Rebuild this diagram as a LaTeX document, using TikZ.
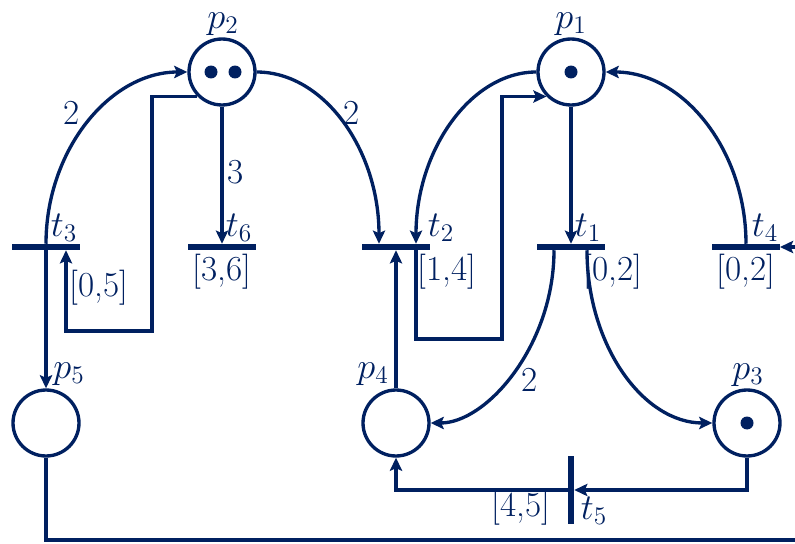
\documentclass[tikz,border=0pt]{standalone}
\usetikzlibrary{arrows.meta,calc}
\definecolor{navy}{HTML}{002060}
\begin{document}
\begin{tikzpicture}[x=0.02cm,y=-0.02cm,
  every node/.style={text=navy},
  place/.style={circle,draw=navy,line width=1.9pt,minimum size=1.32cm,inner sep=0pt},
  htrans/.style={rectangle,fill=navy,minimum width=1.36cm,minimum height=0.13cm,inner sep=0pt,outer sep=0pt},
  vtrans/.style={rectangle,fill=navy,minimum width=0.13cm,minimum height=1.38cm,inner sep=0pt,outer sep=0pt},
  arc/.style={draw=navy,line width=1.9pt,-{Stealth[length=7.5pt,width=7pt,inset=1.5pt]}},
  token/.style={circle,fill=navy,minimum size=0.26cm,inner sep=0pt},
  lbl/.style={font=\fontsize{20}{24}\selectfont,inner sep=0pt},
]
\useasboundingbox (0,0) rectangle (795,544);
% places
\node[place] (p1) at (571,72) {};
\node[place] (p2) at (222,72) {};
\node[place] (p3) at (747,423) {};
\node[place] (p4) at (396,423) {};
\node[place] (p5) at (46,423) {};
% tokens
\node[token] (k1) at (571,72) {};
\node[token] (k2a) at (211,72) {};
\node[token] (k2b) at (235,72) {};
\node[token] (k3) at (747,423) {};
% transitions
\node[htrans] (t1) at (571,247) {};
\node[htrans] (t2) at (396,247) {};
\node[htrans] (t3) at (46,247) {};
\node[htrans] (t4) at (746,247) {};
\node[vtrans] (t5) at (571,490) {};
\node[htrans] (t6) at (222,247) {};
% arcs
\draw[arc] (t3.north) .. controls (46,150) and (110,72) .. (p2.west);
\draw[arc] (p2.east) .. controls (324,72) and (379,150) .. ($(t2.north)+(-17,0)$);
\draw[arc] (p1.west) .. controls (471,72) and (416,150) .. ($(t2.north)+(20,0)$);
\draw[arc] (t4.north) .. controls (746,150) and (683,72) .. (p1.east);
\draw[arc] (p1.south) -- (t1.north);
\draw[arc] (p2.south) -- (t6.north);
\draw[arc] ($(t1.south)+(-17,0)$) .. controls (554,345) and (487,423) .. (p4.east);
\draw[arc] ($(t1.south)+(16,0)$) .. controls (587,345) and (643,423) .. (p3.west);
\draw[arc] (t3.south) -- (p5.north);
\draw[arc] (p4.north) -- (t2.south);
\draw[arc] (p2.south west) -| (152,331) -| ($(t3.south)+(20,0)$);
\draw[arc] ($(t2.south)+(20,0)$) |- (502,339) |- (p1.south west);
\draw[arc] (p3.south) |- (t5.east);
\draw[arc] (t5.west) -| (p4.south);
\draw[arc] (p5.south) |- (830,540) |- (t4.east);
% place labels
\node[lbl] (lp1) at (571,24) {$p_1$};
\node[lbl] (lp2) at (223,24) {$p_2$};
\node[lbl] (lp3) at (748,375) {$p_3$};
\node[lbl] (lp4) at (373,374) {$p_4$};
\node[lbl] (lp5) at (69,374) {$p_5$};
% transition labels
\node[lbl] (lt1) at (588,228) {$t_1$};
\node[lbl] (lt2) at (441,228) {$t_2$};
\node[lbl] (lt3) at (64,228) {$t_3$};
\node[lbl] (lt4) at (765,228) {$t_4$};
\node[lbl] (lt5) at (594,511) {$t_5$};
\node[lbl] (lt6) at (239,228) {$t_6$};
% intervals
\node[lbl] (i1) at (613,272) {[0,2]};
\node[lbl] (i2) at (447,272) {[1,4]};
\node[lbl] (i3) at (99,288) {[0,5]};
\node[lbl] (i4) at (746,272) {[0,2]};
\node[lbl] (i5) at (521,508) {[4,5]};
\node[lbl] (i6) at (222,272) {[3,6]};
% weights
\node[lbl] (w1) at (72,113) {2};
\node[lbl] (w2) at (352,113) {2};
\node[lbl] (w3) at (236,172) {3};
\node[lbl] (w4) at (530,380) {2};
\end{tikzpicture}
\end{document}
